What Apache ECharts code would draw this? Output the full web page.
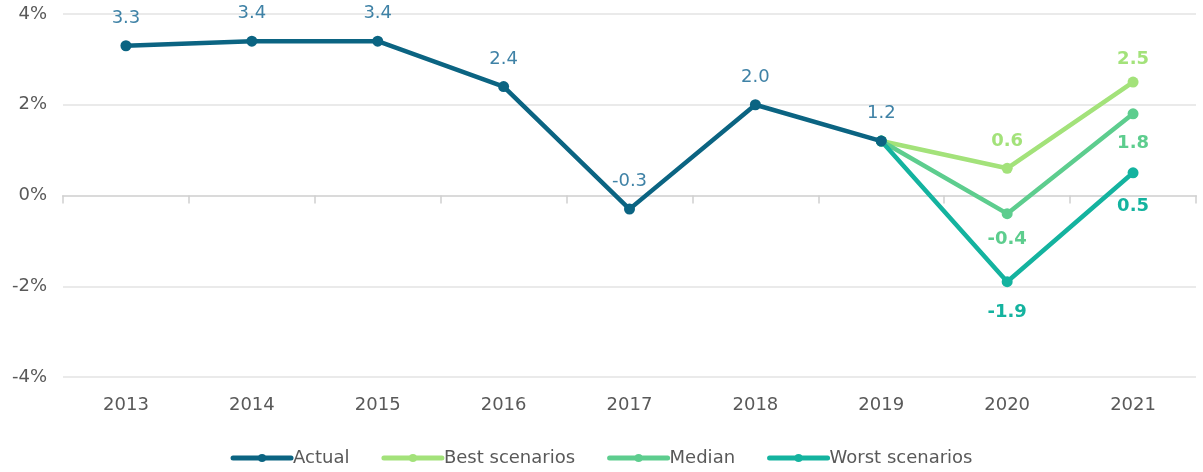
<!DOCTYPE html>
<html>
<head>
<meta charset="utf-8">
<script src="https://cdn.jsdelivr.net/npm/echarts@6/dist/echarts.min.js"></script>
<style>
html, body { margin: 0; padding: 0; background: #fff; }
#main { width: 1203px; height: 472px; }
</style>
</head>
<body>
<div id="main"></div>
<script>
var years = ['2013', '2014', '2015', '2016', '2017', '2018', '2019', '2020', '2021'];
var actual = [3.3, 3.4, 3.4, 2.4, -0.3, 2.0, 1.2, null, null];
var best = [null, null, null, null, null, null, 1.2, 0.6, 2.5];
var median = [null, null, null, null, null, null, 1.2, -0.4, 1.8];
var worst = [null, null, null, null, null, null, 1.2, -1.9, 0.5];

var cActual = '#0b6482', cBest = '#a3e27a', cMedian = '#5dcd8e', cWorst = '#14b39f';
var font = 'DejaVu Sans';

// label placement for the scenario points (2019 point is labelled by Actual)
function scen(data, color, place) {
    return data.map(function (v, i) {
        if (v === null) return null;
        if (!place[i]) return { value: v, label: { show: false } };
        return {
            value: v,
            label: { show: true, position: place[i][0], distance: place[i][1], color: color }
        };
    });
}

function fmt(p) { return p.value.toFixed(1); }

var chart = echarts.init(document.getElementById('main'));
chart.setOption({
    animation: false,
    grid: { left: 63, right: 7, top: 14, bottom: 95 },
    legend: {
        bottom: 0,
        left: 'center',
        itemWidth: 58,
        itemHeight: 10,
        itemGap: 32,
        lineStyle: { width: 5, cap: 'round' },
        textStyle: { fontFamily: font, fontSize: 18, color: '#595959', padding: [0, 0, 0, -3] },
        data: ['Actual', 'Best scenarios', 'Median', 'Worst scenarios']
    },
    xAxis: [{
        type: 'category',
        data: years,
        axisLine: { onZero: true, lineStyle: { color: '#dadada', width: 2 } },
        axisTick: { show: true, length: 8, lineStyle: { color: '#d0d0d0', width: 1.5 } },
        axisLabel: { show: false }
    }, {
        type: 'category',
        data: years,
        position: 'bottom',
        axisLine: { show: false, onZero: false },
        axisTick: { show: false },
        axisLabel: { margin: 19, fontSize: 18, color: '#595959', fontFamily: font }
    }],
    yAxis: {
        type: 'value',
        min: -4,
        max: 4,
        interval: 2,
        axisLine: { show: false },
        axisTick: { show: false },
        axisLabel: { formatter: '{value}%', margin: 16, fontSize: 18, color: '#595959', fontFamily: font },
        splitLine: { lineStyle: { color: '#e3e3e3', width: 1.5 } }
    },
    series: [{
        name: 'Actual',
        type: 'line',
        data: actual,
        symbol: 'circle',
        symbolSize: 11,
        lineStyle: { width: 4.5, color: cActual },
        itemStyle: { color: cActual },
        label: {
            show: true, position: 'top', distance: 13,
            formatter: fmt, fontSize: 18, color: '#3f82a6', fontFamily: font
        },
        z: 5
    }, {
        name: 'Best scenarios',
        type: 'line',
        data: scen(best, cBest, { 7: ['top', 12], 8: ['top', 8] }),
        symbol: 'circle',
        symbolSize: 11,
        lineStyle: { width: 4.5, color: cBest },
        itemStyle: { color: cBest },
        label: { show: true, fontSize: 18, fontWeight: 'bold', fontFamily: font, formatter: fmt }
    }, {
        name: 'Median',
        type: 'line',
        data: scen(median, cMedian, { 7: ['bottom', 11], 8: ['bottom', 15] }),
        symbol: 'circle',
        symbolSize: 11,
        lineStyle: { width: 4.5, color: cMedian },
        itemStyle: { color: cMedian },
        label: { show: true, fontSize: 18, fontWeight: 'bold', fontFamily: font, formatter: fmt }
    }, {
        name: 'Worst scenarios',
        type: 'line',
        data: scen(worst, cWorst, { 7: ['bottom', 16], 8: ['bottom', 19] }),
        symbol: 'circle',
        symbolSize: 11,
        lineStyle: { width: 4.5, color: cWorst },
        itemStyle: { color: cWorst },
        label: { show: true, fontSize: 18, fontWeight: 'bold', fontFamily: font, formatter: fmt }
    }]
});
</script>
</body>
</html>
